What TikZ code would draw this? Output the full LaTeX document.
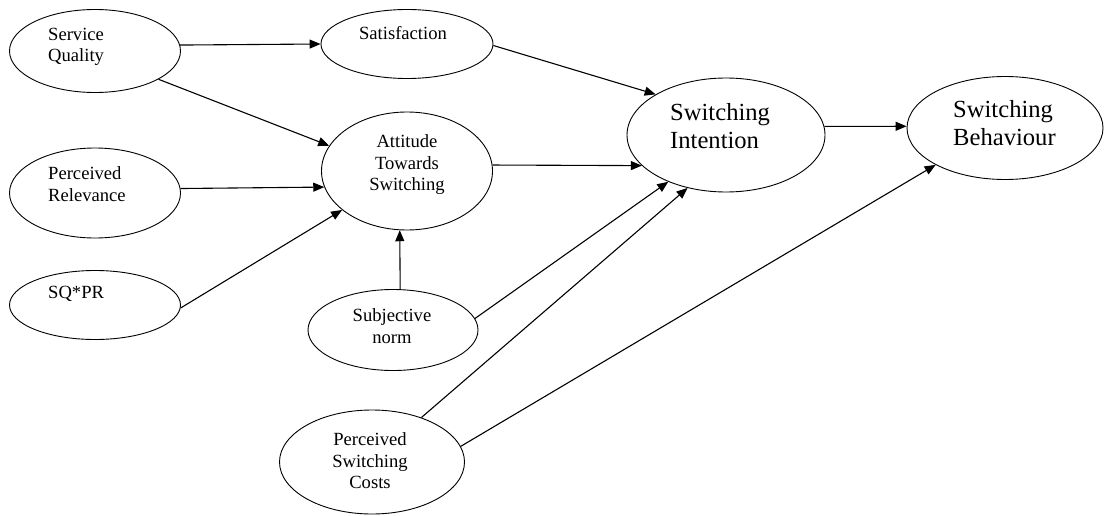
\documentclass[tikz,border=0pt]{standalone}
\usepackage{fontspec}
\setmainfont{Liberation Serif}
\usetikzlibrary{arrows.meta,shapes.geometric}
\begin{document}
\begin{tikzpicture}[x=1pt,y=-1pt,
  construct/.style={draw, ellipse, line width=0.9pt, inner sep=0pt},
  smalltext/.style={font=\fontsize{18.6}{21.5}\selectfont, inner sep=0pt},
  bigtext/.style={font=\fontsize{24.6}{28}\selectfont, inner sep=0pt},
  link/.style={-{Triangle[length=11pt,width=9pt]}, line width=1.1pt}]
\useasboundingbox (0,0) rectangle (1107,516);

% constructs
\node[construct, minimum width=171pt, minimum height=83pt]  (sq)   at (95,51)   {};
\node[construct, minimum width=172pt, minimum height=69pt]  (sat)  at (407,44)  {};
\node[construct, minimum width=171pt, minimum height=118pt] (att)  at (407,171) {};
\node[construct, minimum width=171pt, minimum height=90pt]  (pr)   at (95,193)  {};
\node[construct, minimum width=171pt, minimum height=69pt]  (sqpr) at (95,305)  {};
\node[construct, minimum width=170pt, minimum height=81pt]  (sn)   at (393,330) {};
\node[construct, minimum width=198pt, minimum height=114pt] (si)   at (726,135) {};
\node[construct, minimum width=196pt, minimum height=103pt] (sb)   at (1005,128) {};
\node[construct, minimum width=185pt, minimum height=104pt] (psc)  at (372,462) {};

% labels
\node[smalltext, align=left, anchor=west] (sqL)   at (48,47)  {Service\\Quality};
\node[smalltext] (satL) at (403,33) {Satisfaction};
\node[smalltext, align=center] (attL) at (407,165) {Attitude\\Towards\\Switching};
\node[smalltext, align=left, anchor=west] (prL)   at (48,184) {Perceived\\Relevance};
\node[smalltext, anchor=west] (sqprL) at (48,294) {SQ*PR};
\node[smalltext, align=center] (snL)  at (392,326) {Subjective\\norm};
\node[smalltext, align=center] (pscL) at (370,461) {Perceived\\Switching\\Costs};
\node[bigtext, align=left, anchor=west] (siL) at (670,126) {Switching\\Intention};
\node[bigtext, align=left, anchor=west] (sbL) at (953,123) {Switching\\Behaviour};

% paths
\draw[link] (sq.4.7)  -- (sat.180);
\draw[link] (sq.-24)  -- (att.162);
\draw[link] (pr.3)    -- (att.191);
\draw[link] (sqpr.-2) -- (att.211);
\draw[link] (sn.80)   -- (att.-97);
\draw[link] (sat.-1)  -- (si.150);
\draw[link] (att.4)   -- (si.200);
\draw[link] (sn.8)    -- (si.219);
\draw[link] (psc.42.5) -- (si.234);
\draw[link] (psc.10)  -- (sb.208);
\draw[link] (si.5)    -- (sb.179);
\end{tikzpicture}
\end{document}
